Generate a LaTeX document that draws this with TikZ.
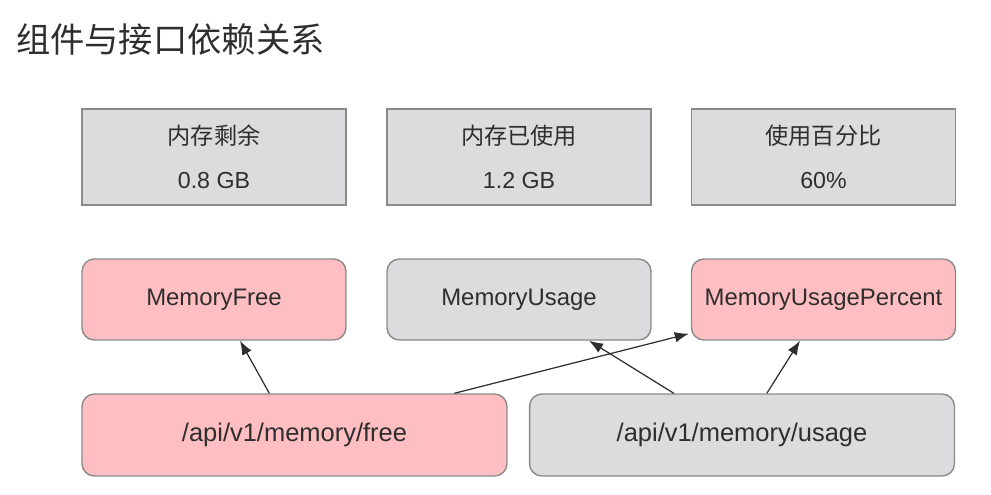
\documentclass[tikz,border=0pt]{standalone}
\usepackage{fontspec}
\setmainfont{Liberation Sans}
\newfontfamily\cjk{Noto Sans CJK SC}
\usepackage{tikz}
\usetikzlibrary{positioning, arrows.meta, calc}

\definecolor{boxgray}{HTML}{DCDBDD}
\definecolor{boxpink}{HTML}{FFBEC1}
\definecolor{edgegray}{HTML}{8A8A8A}
\definecolor{textdark}{HTML}{2E2E2E}

\tikzset{
    valuebox/.style={draw=edgegray, line width=0.8pt, text=textdark, align=center,
        minimum width=5.28cm, minimum height=1.92cm, font=\fontsize{13.2}{16}\selectfont},
    metric/.style={draw=edgegray, line width=0.8pt, rounded corners=7pt, text=textdark,
        minimum width=5.28cm, minimum height=1.62cm, font=\fontsize{13.6}{16}\selectfont},
    api/.style={draw=edgegray, line width=0.8pt, rounded corners=7pt, text=textdark,
        minimum width=8.5cm, minimum height=1.64cm, font=\fontsize{14.5}{17}\selectfont},
    dep/.style={-{Latex[length=8pt,width=6pt]}, line width=0.7pt, draw=textdark},
}

\begin{document}
\begin{tikzpicture}[x=0.02cm, y=-0.02cm]
        \useasboundingbox (0,0) rectangle (991,494);

        \node[anchor=west, text=textdark, font=\cjk\fontsize{19.5}{22}\selectfont] (title) at (10,40) {组件与接口依赖关系}; % title

        \node[valuebox, fill=boxgray] (free) at (214,157) {{\cjk 内存剩余}\\[9pt]0.8 GB}; % free
        \node[valuebox, fill=boxgray] (used) at (519,157) {{\cjk 内存已使用}\\[9pt]1.2 GB}; % used
        \node[valuebox, fill=boxgray] (pct) at (823.5,157) {{\cjk 使用百分比}\\[9pt]60\%}; % percent

        \node[metric, fill=boxpink] (memfree) at (214,299.5) {MemoryFree}; % MemoryFree
        \node[metric, fill=boxgray] (memusage) at (519,299.5) {MemoryUsage}; % MemoryUsage
        \node[metric, fill=boxpink] (mempct) at (823.5,299.5) {MemoryUsagePercent}; % MemoryUsagePercent

        \node[api, fill=boxpink] (apifree) at (294.5,435) {/api/v1/memory/free}; % free api
        \node[api, fill=boxgray] (apiusage) at (742,435) {/api/v1/memory/usage}; % usage api

        \draw[dep] ($(apifree.north west)+(188,0)$) -- ($(memfree.south)+(26,0)$);
        \draw[dep] ($(apifree.north west)+(373,0)$) -- ($(mempct.south west)+(-2,-7)$);
        \draw[dep] ($(apiusage.north west)+(145,0)$) -- ($(memusage.south)+(70,0)$);
        \draw[dep] ($(apiusage.north west)+(238,0)$) -- ($(mempct.south)+(-23.5,0)$);
    \end{tikzpicture}
\end{document}
